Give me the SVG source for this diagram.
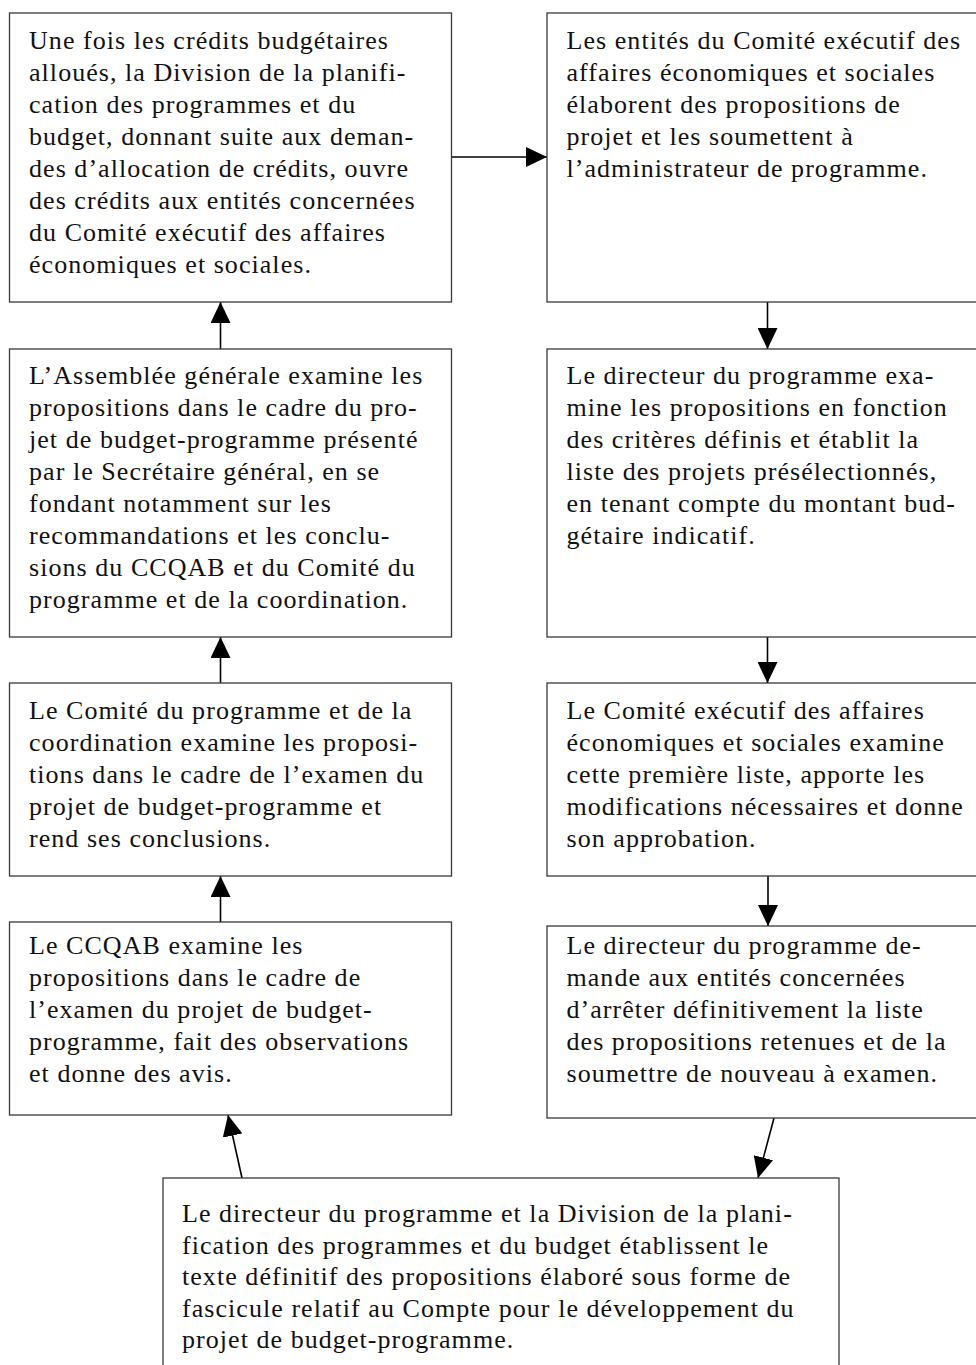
<svg xmlns="http://www.w3.org/2000/svg" width="976" height="1365" viewBox="0 0 976 1365">
<style>
.box{fill:#fff;stroke:#3a3a3a;stroke-width:1.3}
.t{font-family:"Liberation Serif","Times New Roman",serif;font-size:26px;letter-spacing:1.05px;fill:#111}
.c{stroke:#000;stroke-width:1.6;fill:none;marker-end:url(#ah)}
</style>
<defs>
<marker id="ah" markerUnits="userSpaceOnUse" markerWidth="22" markerHeight="20" refX="21" refY="10" orient="auto">
<path d="M0,0 L21,10 L0,20 z" fill="#000"/>
</marker>
</defs>
<rect width="976" height="1365" fill="#fff"/>
<g id="connectors">
<line class="c" x1="451.5" y1="157" x2="547" y2="157"/>
<line class="c" x1="767.5" y1="302" x2="767.5" y2="349"/>
<line class="c" x1="767.5" y1="637" x2="767.5" y2="683"/>
<line class="c" x1="768" y1="876" x2="768" y2="926"/>
<line class="c" x1="220.5" y1="349" x2="220.5" y2="302"/>
<line class="c" x1="220.5" y1="683" x2="220.5" y2="637"/>
<line class="c" x1="220.5" y1="922" x2="220.5" y2="876"/>
<line class="c" x1="242" y1="1178" x2="228" y2="1115"/>
<line class="c" x1="774" y1="1118" x2="758" y2="1178"/>
</g>
<g id="L1">
<rect class="box" x="9.5" y="13" width="442" height="289"/>
<text class="t"><tspan x="29" y="49">Une fois les crédits budgétaires</tspan><tspan x="29" y="81">alloués, la Division de la planifi-</tspan><tspan x="29" y="113">cation des programmes et du</tspan><tspan x="29" y="145">budget, donnant suite aux deman-</tspan><tspan x="29" y="177">des d’allocation de crédits, ouvre</tspan><tspan x="29" y="209">des crédits aux entités concernées</tspan><tspan x="29" y="241">du Comité exécutif des affaires</tspan><tspan x="29" y="273">économiques et sociales.</tspan></text>
</g>
<g id="R1">
<rect class="box" x="547" y="13" width="432" height="289"/>
<text class="t"><tspan x="566.5" y="49">Les entités du Comité exécutif des</tspan><tspan x="566.5" y="81">affaires économiques et sociales</tspan><tspan x="566.5" y="113">élaborent des propositions de</tspan><tspan x="566.5" y="145">projet et les soumettent à</tspan><tspan x="566.5" y="177">l’administrateur de programme.</tspan></text>
</g>
<g id="L2">
<rect class="box" x="9.5" y="349" width="442" height="288"/>
<text class="t"><tspan x="29" y="384">L’Assemblée générale examine les</tspan><tspan x="29" y="416">propositions dans le cadre du pro-</tspan><tspan x="29" y="448">jet de budget-programme présenté</tspan><tspan x="29" y="480">par le Secrétaire général, en se</tspan><tspan x="29" y="512">fondant notamment sur les</tspan><tspan x="29" y="544">recommandations et les conclu-</tspan><tspan x="29" y="576">sions du CCQAB et du Comité du</tspan><tspan x="29" y="608">programme et de la coordination.</tspan></text>
</g>
<g id="R2">
<rect class="box" x="547" y="349" width="432" height="288"/>
<text class="t"><tspan x="566.5" y="384">Le directeur du programme exa-</tspan><tspan x="566.5" y="416">mine les propositions en fonction</tspan><tspan x="566.5" y="448">des critères définis et établit la</tspan><tspan x="566.5" y="480">liste des projets présélectionnés,</tspan><tspan x="566.5" y="512">en tenant compte du montant bud-</tspan><tspan x="566.5" y="544">gétaire indicatif.</tspan></text>
</g>
<g id="L3">
<rect class="box" x="9.5" y="683" width="442" height="193"/>
<text class="t"><tspan x="29" y="719">Le Comité du programme et de la</tspan><tspan x="29" y="751">coordination examine les proposi-</tspan><tspan x="29" y="783">tions dans le cadre de l’examen du</tspan><tspan x="29" y="815">projet de budget-programme et</tspan><tspan x="29" y="847">rend ses conclusions.</tspan></text>
</g>
<g id="R3">
<rect class="box" x="547" y="683" width="432" height="193"/>
<text class="t"><tspan x="566.5" y="719">Le Comité exécutif des affaires</tspan><tspan x="566.5" y="751">économiques et sociales examine</tspan><tspan x="566.5" y="783">cette première liste, apporte les</tspan><tspan x="566.5" y="815">modifications nécessaires et donne</tspan><tspan x="566.5" y="847">son approbation.</tspan></text>
</g>
<g id="L4">
<rect class="box" x="9.5" y="922" width="442" height="193"/>
<text class="t"><tspan x="29" y="954">Le CCQAB examine les</tspan><tspan x="29" y="986">propositions dans le cadre de</tspan><tspan x="29" y="1018">l’examen du projet de budget-</tspan><tspan x="29" y="1050">programme, fait des observations</tspan><tspan x="29" y="1082">et donne des avis.</tspan></text>
</g>
<g id="R4">
<rect class="box" x="547" y="926" width="432" height="192"/>
<text class="t"><tspan x="566.5" y="954">Le directeur du programme de-</tspan><tspan x="566.5" y="986">mande aux entités concernées</tspan><tspan x="566.5" y="1018">d’arrêter définitivement la liste</tspan><tspan x="566.5" y="1050">des propositions retenues et de la</tspan><tspan x="566.5" y="1082">soumettre de nouveau à examen.</tspan></text>
</g>
<g id="B">
<rect class="box" x="163" y="1178" width="676" height="200"/>
<text class="t"><tspan x="182" y="1222">Le directeur du programme et la Division de la plani-</tspan><tspan x="182" y="1253.5">fication des programmes et du budget établissent le</tspan><tspan x="182" y="1285">texte définitif des propositions élaboré sous forme de</tspan><tspan x="182" y="1316.5">fascicule relatif au Compte pour le développement du</tspan><tspan x="182" y="1348">projet de budget-programme.</tspan></text>
</g>
</svg>
